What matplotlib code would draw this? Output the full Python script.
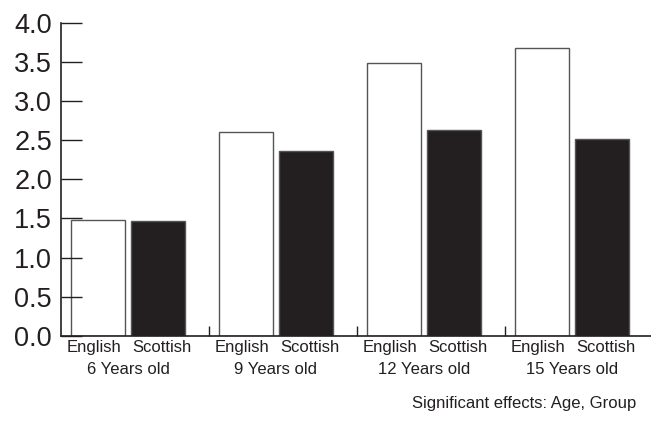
import numpy as np
import matplotlib
matplotlib.use("Agg")
import matplotlib.pyplot as plt

plt.rcParams['font.family'] = ['Liberation Sans', 'DejaVu Sans']

# mean scores by age group
ages = ['6 Years old', '9 Years old', '12 Years old', '15 Years old']
groups = ['English', 'Scottish']
english = [1.48, 2.61, 3.48, 3.68]
scottish = [1.47, 2.36, 2.63, 2.52]
yticks = [0.0, 0.5, 1.0, 1.5, 2.0, 2.5, 3.0, 3.5, 4.0]

ink = '#231f20'
edge = '#555555'

fig = plt.figure(figsize=(6.51, 4.36), dpi=100)
ax = fig.add_axes([0.0937, 0.2294, 0.9063, 0.7186])

x = np.arange(len(ages))
off = 0.2
w = 0.365
ax.bar(x - off, english, w, color='white', edgecolor=edge, linewidth=1.0)
ax.bar(x + off, scottish, w, color=ink, edgecolor=edge, linewidth=1.0)

ax.set_xlim(-0.4527, 3.534)
ax.set_ylim(0, 4.0)

for s in ['top', 'right']:
    ax.spines[s].set_visible(False)
for s in ['left', 'bottom']:
    ax.spines[s].set_color(ink)
    ax.spines[s].set_linewidth(1.2)

ax.set_yticks(yticks)
ax.set_yticklabels([f'{v:.1f}' for v in yticks], fontsize=19.5, color=ink)
ax.tick_params(axis='y', direction='in', length=15, width=1.0, color=ink, pad=6.5)

# small separators between age groups
ax.set_xticks(x[:-1] + 0.546)
ax.set_xticklabels([])
ax.tick_params(axis='x', direction='in', length=7, width=1.0, color=ink)

# group names sit a bit wider apart than the bars
loff = 0.23
trans = ax.get_xaxis_transform()
for i, age in enumerate(ages):
    ax.text(i - loff, -0.0383, groups[0], transform=trans,
            ha='center', va='center', fontsize=12, color=ink)
    ax.text(i + loff, -0.0383, groups[1], transform=trans,
            ha='center', va='center', fontsize=12, color=ink)
    ax.text(i, -0.1085, age, transform=trans,
            ha='center', va='center', fontsize=12, color=ink)

fig.text(636 / 651, 0.0734, 'Significant effects: Age, Group',
         ha='right', va='center', fontsize=12, color=ink)

fig.savefig('out.png', dpi=100)
